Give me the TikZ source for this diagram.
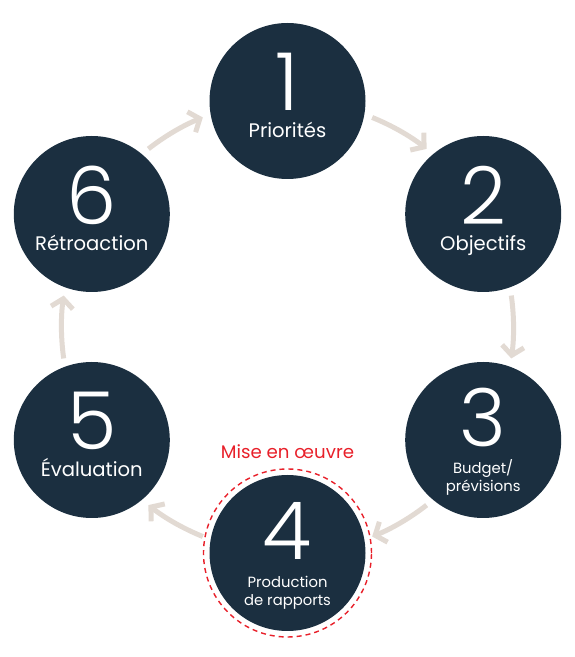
\documentclass[tikz,border=0pt]{standalone}
\usepackage{fontspec}
\setmainfont{Poppins}
\newfontfamily\numfont{Poppins Light}
\usetikzlibrary{arrows.meta}

\definecolor{navy}{HTML}{1B2F40}
\definecolor{sand}{HTML}{E2DAD3}
\definecolor{alertred}{HTML}{E8202A}

\tikzset{
	stage/.style={circle, fill=navy, minimum size=156pt, inner sep=0pt},
	stagenum/.style={text=white, inner sep=0pt, font=\numfont\fontsize{80}{80}\selectfont},
	stagelabel/.style={text=white, inner sep=0pt, anchor=base, font=\fontsize{19.6}{22}\selectfont},
	smalllabel/.style={text=white, inner sep=0pt, anchor=base, align=center, font=\fontsize{14.8}{18}\selectfont},
	cycle/.style={draw=sand, line width=5pt, -{Straight Barb[length=9pt,width=22pt]}}
}

\begin{document}
\begin{tikzpicture}[x=1pt, y=1pt]
			%%%%% START %%%%%
			
			\useasboundingbox (0, 0) rectangle (575, 657);
			\coordinate (hub) at (287.5, 330);
			
			\node[stage] (s1) at (287.5, 556) {};
			\node[stage] (s2) at (483.2, 443) {};
			\node[stage] (s3) at (483.2, 217) {};
			\node[stage] (s4) at (287.5, 104) {};
			\node[stage] (s5) at (91.8, 217) {};
			\node[stage] (s6) at (91.8, 443) {};
			
			\node[draw=alertred, dash pattern=on 5pt off 4pt, line width=1.4pt, circle, minimum size=168pt] (ring) at (s4) {};
			\node[text=alertred, anchor=base, font=\fontsize{18.2}{20}\selectfont] (ringlabel) at (287.5, 198) {Mise en œuvre};
			
			\node[stagenum] (n1) at ([yshift=19pt]s1) {1};
			\node[stagelabel] (l1) at ([yshift=-37pt]s1) {Priorités};
			
			\node[stagenum] (n2) at ([yshift=19pt]s2) {2};
			\node[stagelabel] (l2) at ([yshift=-37pt]s2) {Objectifs};
			
			\node[stagenum] (n3) at ([yshift=22pt]s3) {3};
			\node[smalllabel] (l3) at ([yshift=-52pt]s3) {Budget/\\prévisions};
			
			\node[stagenum] (n4) at ([yshift=22pt]s4) {4};
			\node[smalllabel] (l4) at ([yshift=-52pt]s4) {Production\\de rapports};
			
			\node[stagenum] (n5) at ([yshift=19pt]s5) {5};
			\node[stagelabel] (l5) at ([yshift=-37pt]s5) {Évaluation};
			
			\node[stagenum] (n6) at ([yshift=19pt]s6) {6};
			\node[stagelabel] (l6) at ([yshift=-37pt]s6) {Rétroaction};
			
			% arrows run along the circle through the six stages
			\foreach \a in {60, 0, -60, -120, 180, 120}
				\draw[cycle] ([shift={({\a+8}:226)}]hub) arc ({\a+8}:{\a-8}:226);
			
			%%%%% END %%%%%
\end{tikzpicture}
\end{document}
